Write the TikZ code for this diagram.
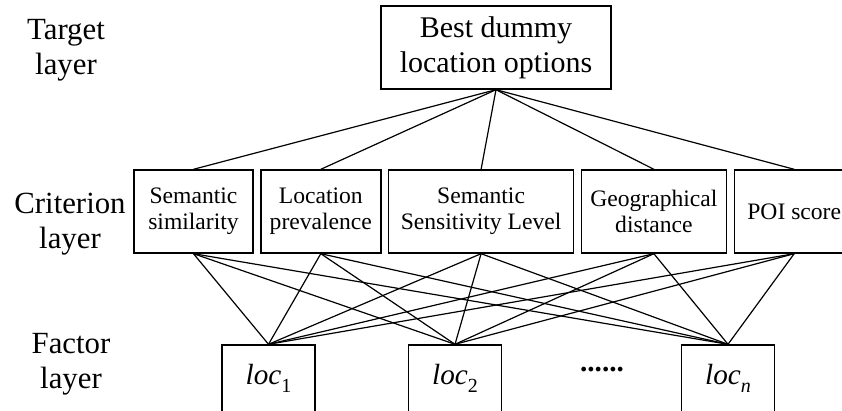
\documentclass[tikz,border=0pt]{standalone}
\usepackage{fontspec}
\setmainfont{Liberation Serif}
\usetikzlibrary{positioning}
\newcommand\indice[1]{\raisebox{-3.8pt}{\fontsize{10}{10}\selectfont#1}}

\begin{document}
\begin{tikzpicture}[x=0.5pt,y=-0.5pt,node distance=3.2pt,
  alvo/.style={rectangle,draw,line width=0.7pt,align=center,font=\fontsize{15}{17.5}\selectfont,minimum width=115pt,minimum height=41.5pt,inner sep=0pt},
  criterio/.style={rectangle,draw,line width=0.7pt,align=center,font=\fontsize{11.8}{13}\selectfont,minimum height=41.5pt,inner sep=0pt},
  fator/.style={rectangle,draw,line width=0.7pt,font=\fontsize{14.6}{16}\selectfont,minimum width=46.5pt,minimum height=33.5pt,inner sep=0pt},
  camada/.style={align=center,font=\fontsize{15.4}{17.5}\selectfont,inner sep=0pt},
  ligacao/.style={line width=0.6pt}]
\useasboundingbox (0,0) rectangle (842,411);
% camadas
\node[camada] (lt) at (66,50) {Target\\layer};
\node[camada] (lc) at (70,224) {Criterion\\layer};
\node[camada] (lf) at (71,364) {Factor\\layer};
% alvo
\node[alvo] (topo) at (496,47.5) {Best dummy\\location options};
% criterios
\node[criterio,minimum width=59.5pt] (c1) at (193.5,211.5) {Semantic\\similarity};
\node[criterio,minimum width=60pt,right=of c1] (c2) {Location\\prevalence};
\node[criterio,minimum width=92.5pt,right=of c2] (c3) {Semantic\\Sensitivity Level};
\node[criterio,minimum width=72.5pt,right=of c3] (c4) {Geographical\\distance};
\node[criterio,minimum width=60pt,right=of c4] (c5) {POI score};
% fatores
\node[fator] (f1) at (268.5,378.5) {\textit{loc}\indice{1}};
\node[fator] (f2) at (455,378.5) {\textit{loc}\indice{2}};
\node[fator] (fn) at (728,378.5) {\textit{loc}\indice{\textit{n}}};
\node[font=\fontsize{14.6}{16}\selectfont\bfseries] (pontos) at (602,370) {......};
\foreach \c in {c1,c2,c3,c4,c5} \draw[ligacao] (topo.south) -- (\c.north);
\foreach \c in {c1,c2,c3,c4,c5}
  \foreach \f in {f1,f2,fn} \draw[ligacao] (\c.south) -- (\f.north);
\end{tikzpicture}
\end{document}
